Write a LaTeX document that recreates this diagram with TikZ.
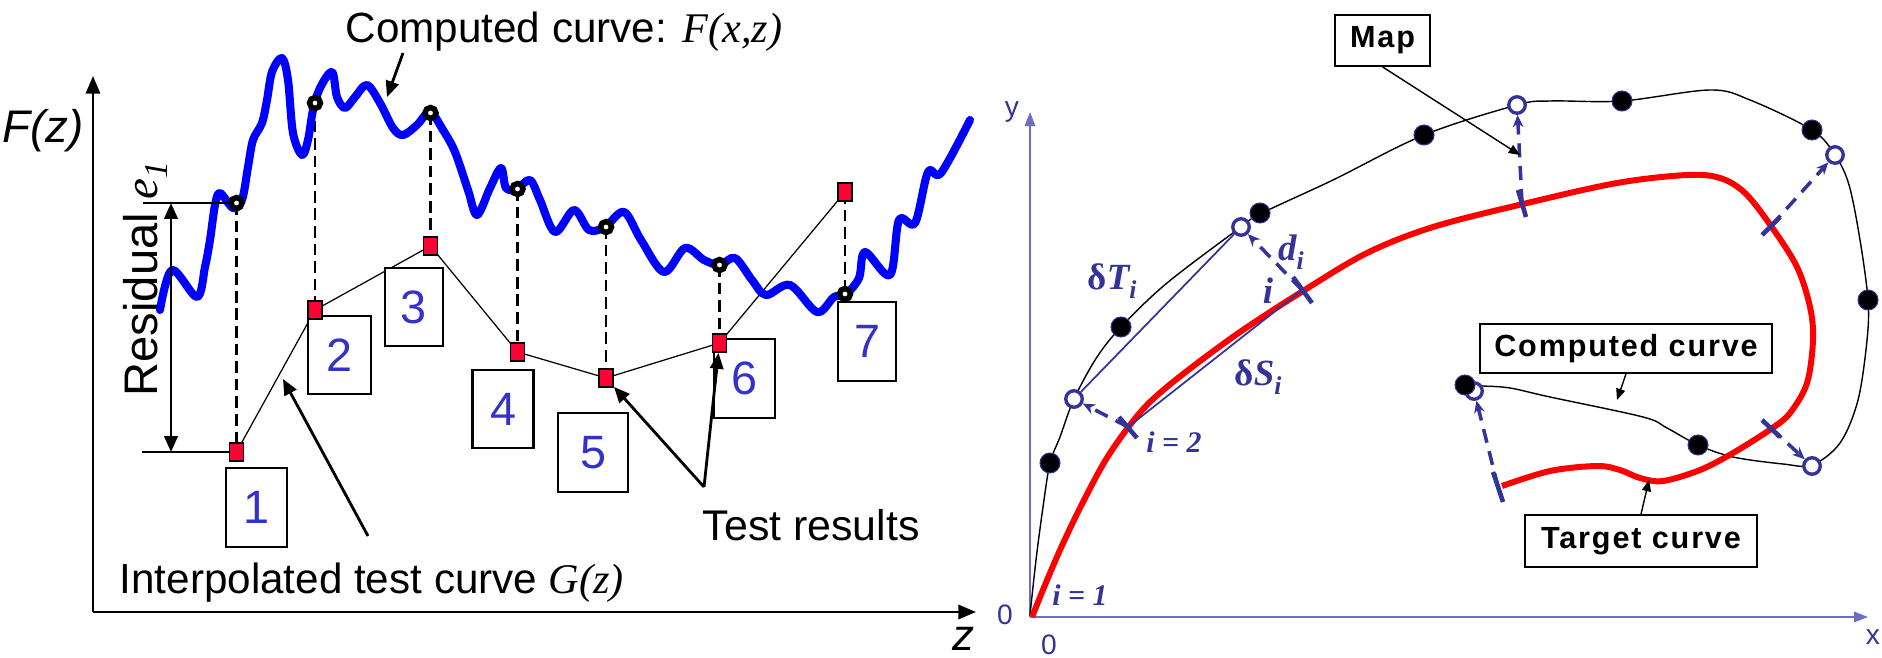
\documentclass[tikz,border=0pt]{standalone}
\usepackage{fontspec}
\setmainfont{Liberation Sans}
\newfontfamily\timesf{Liberation Serif}
\newfontfamily\boxfont[LetterSpace=6]{Liberation Sans}
\usetikzlibrary{arrows.meta}
\definecolor{curveblue}{RGB}{0,0,255}
\definecolor{numblue}{RGB}{51,51,204}
\definecolor{sqred}{RGB}{255,0,51}
\definecolor{navy}{RGB}{51,51,153}
\definecolor{axisblue}{RGB}{110,110,190}
\newcommand{\mysub}[1]{\raisebox{-2.6pt}{\fontsize{7.3}{7.3}\selectfont #1}}
\tikzset{
  numbox/.style={draw=black, line width=0.6pt, fill=white, inner sep=0pt, text=numblue, font=\fontsize{13.3}{13.3}\selectfont},
  sqr/.style={draw=black, line width=0.55pt, fill=sqred, minimum width=0.14cm, minimum height=0.18cm, inner sep=0pt},
  ring/.style={circle, draw=black, line width=1.55pt, fill=white, minimum size=0.11cm, inner sep=0pt},
  dashv/.style={line width=0.75pt, dash pattern=on 3.3pt off 1.7pt},
  thinl/.style={line width=0.35pt},
  blk/.style={-{Triangle[length=4.5pt,width=3.8pt]}, line width=0.8pt},
  lbl/.style={inner sep=0pt, font=\fontsize{12}{12}\selectfont},
  tbox/.style={draw=black, line width=0.5pt, fill=white, inner sep=0pt, font=\boxfont\bfseries\fontsize{8.7}{8.7}\selectfont},
  bdot/.style={circle, fill=black, draw=navy, line width=0.3pt, minimum size=0.2cm, inner sep=0pt},
  odot/.style={circle, fill=white, draw=navy, line width=0.95pt, minimum size=0.165cm, inner sep=0pt},
  tick/.style={navy, line width=1.3pt},
  dasharr/.style={navy, line width=1pt, dash pattern=on 4pt off 2.5pt, -{Stealth[length=3.5pt,width=3pt]}},
  thinarr/.style={line width=0.4pt, -{Triangle[length=3.2pt,width=2.6pt]}},
  navylbl/.style={inner sep=0pt, text=navy, font=\timesf\bfseries\itshape\fontsize{10.5}{10.5}\selectfont},
  axlbl/.style={inner sep=0pt, text=navy, font=\fontsize{8}{8}\selectfont}
}
\begin{document}
\begin{tikzpicture}[x=0.01cm,y=-0.01cm]
\useasboundingbox (0,0) rectangle (1882,658);
% ================= LEFT PANEL =================
\coordinate (lorig) at (93,612);
\coordinate (lytip) at (93,76);
\coordinate (lxtip) at (976,612);
\draw[line width=0.85pt, -{Triangle[length=5pt,width=4pt]}] (lorig) -- (lytip);
\draw[line width=0.85pt, -{Triangle[length=5pt,width=4pt]}] (lorig) -- (lxtip);

% coordinates of test results and computed points
\coordinate (p1) at (236.5,452);
\coordinate (p2) at (315,310);
\coordinate (p3) at (430.5,246);
\coordinate (p4) at (517.5,352);
\coordinate (p5) at (606,378);
\coordinate (p6) at (719.5,343);
\coordinate (p7) at (845,192);
\coordinate (q1) at (236.5,203);
\coordinate (q2) at (315,103);
\coordinate (q3) at (430.5,113);
\coordinate (q4) at (517.5,189);
\coordinate (q5) at (606,227);
\coordinate (q6) at (719.5,265);
\coordinate (q7) at (845,294);

% dashed residual lines
\draw[dashv] (q1) -- (p1);
\draw[dashv] (q2) -- (p2);
\draw[dashv] (q3) -- (p3);
\draw[dashv] (q4) -- (p4);
\draw[dashv] (q5) -- (p5);
\draw[dashv] (q6) -- (p6);
\draw[dashv] (p7) -- (q7);

% interpolated polyline
\draw[thinl] (p1) -- (p2) -- (p3) -- (p4) -- (p5) -- (p6) -- (p7);

% computed wiggly curve
\draw[curveblue, line width=2.3pt, line join=round, line cap=round]
 plot[smooth, tension=0.55] coordinates {
 (160,310) (172,270) (197,297) (205,267) (210,240) (215,205) (220,193) (233,208) (242,200)
 (248,167) (253,140) (262,123) (267,100) (272,72) (282,58) (288,80) (293,133) (302,155)
 (308,140) (313,110) (320,88) (332,72) (337,97) (345,108) (355,97) (367,85) (380,103)
 (393,128) (403,135) (417,125) (430,112) (443,130) (455,152) (468,190) (477,215) (490,188)
 (501,168) (506,188) (517,189) (530,180) (540,200) (555,232) (574,210) (589,230) (605,227)
 (624,212) (641,240) (664,272) (685,248) (704,260) (720,265) (735,258) (752,280) (766,295)
 (790,285) (817,312) (834,297) (846,294) (859,278) (865,252) (890,275) (899,220) (915,223)
 (928,172) (941,173) (970,120)};

% number boxes
\node[numbox, minimum width=0.61cm, minimum height=0.79cm] (b1) at (256.5,507.5) {1};
\node[numbox, minimum width=0.63cm, minimum height=0.78cm] (b2) at (339.5,355) {2};
\node[numbox, minimum width=0.58cm, minimum height=0.78cm] (b3) at (414,307) {3};
\node[numbox, minimum width=0.61cm, minimum height=0.78cm] (b4) at (503,409) {4};
\node[numbox, minimum width=0.70cm, minimum height=0.79cm] (b5) at (593,452.5) {5};
\node[numbox, minimum width=0.61cm, minimum height=0.79cm] (b6) at (744.5,378.5) {6};
\node[numbox, minimum width=0.58cm, minimum height=0.79cm] (b7) at (867,341.5) {7};

% markers on top
\node[sqr] (s1) at (p1) {};
\node[sqr] (s2) at (p2) {};
\node[sqr] (s3) at (p3) {};
\node[sqr] (s4) at (p4) {};
\node[sqr] (s5) at (p5) {};
\node[sqr] (s6) at (p6) {};
\node[sqr] (s7) at (p7) {};
\node[ring] (c1) at (q1) {};
\node[ring] (c2) at (q2) {};
\node[ring] (c3) at (q3) {};
\node[ring] (c4) at (q4) {};
\node[ring] (c5) at (q5) {};
\node[ring] (c6) at (q6) {};
\node[ring] (c7) at (q7) {};

% residual dimension
\coordinate (rt) at (171,203);
\coordinate (rb) at (171,452);
\coordinate (rtl) at (143,203);
\coordinate (rbl) at (142,452);
\draw[line width=0.8pt] (rtl) -- (c1);
\draw[line width=0.8pt] (rbl) -- (s1);
\draw[line width=0.8pt, {Triangle[length=4.5pt,width=3.8pt]}-{Triangle[length=4.5pt,width=3.8pt]}] (rt) -- (rb);
\node[lbl, rotate=90, anchor=base west, font=\fontsize{13.4}{13.4}\selectfont] (res) at (157,397)
  {Residual {\timesf\itshape e\raisebox{-3pt}{\fontsize{9.5}{9.5}\selectfont 1}}};

% labels
\node[lbl, anchor=base west, font=\itshape\fontsize{13}{13}\selectfont] (Fz) at (2,143) {F(z)};
\node[lbl, anchor=base west, font=\itshape\fontsize{12.5}{12.5}\selectfont] (zl) at (952,650) {z};
\node[lbl, anchor=base west] (ctitle) at (345,43) {Computed curve: {\timesf\itshape F(x,z)}};
\node[lbl, anchor=base west] (itext) at (119,593) {Interpolated test curve {\timesf\itshape G(z)}};
\node[lbl, anchor=base west, font=\fontsize{12.2}{12.2}\selectfont] (ttext) at (702,540) {Test results};

\coordinate (ca0) at (403,53);
\coordinate (ca1) at (387,97);
\draw[blk] (ca0) -- (ca1);
\coordinate (ia0) at (368,536);
\coordinate (ia1) at (283,379);
\draw[blk] (ia0) -- (ia1);
\coordinate (ta0) at (704,487);
\draw[blk] (ta0) -- (s5);
\draw[blk] (ta0) -- (s6);

% ================= RIGHT PANEL =================
\coordinate (O) at (1030,617);
\coordinate (ytip) at (1030,112);
\coordinate (xtip) at (1868,617);
\draw[axisblue, line width=0.5pt, -{Triangle[length=4pt,width=3pt]}] (O) -- (ytip);
\draw[axisblue, line width=0.5pt, -{Triangle[length=4pt,width=3pt]}] (O) -- (xtip);
\node[axlbl] (ylab) at (1012,112) {y};
\node[axlbl] (xlab) at (1873,637) {x};
\node[axlbl] (z0a) at (1005,615) {0};
\node[axlbl] (z0b) at (1049,645) {0};

% computed (thin black) curve
\draw[line width=0.4pt] plot[smooth, tension=0.55] coordinates {
 (1030,615) (1036,560) (1043,507) (1050,463) (1060,437) (1074,399) (1097,357) (1122,326)
 (1167,283) (1241,227) (1260,214) (1333,180) (1424,135) (1517,105) (1550,101) (1622,101)
 (1710,90) (1750,100) (1812,130) (1835,155) (1849,185) (1860,240) (1868,300) (1867,340)
 (1858,400) (1840,443) (1812,465) (1783,464) (1733,457) (1698,445) (1667,428) (1643,417)
 (1550,397) (1510,388) (1483,386) (1465,385)};

% target (red) curve
\draw[red, line width=1.7pt, line join=round] plot[smooth, tension=0.55] coordinates {
 (1032,617) (1045,585) (1060,550) (1080,508) (1105,461) (1130,425) (1152,400) (1187,371)
 (1240,332) (1303,291) (1367,253) (1433,227) (1523,204) (1617,183) (1687,175) (1720,178)
 (1745,193) (1771,226) (1797,267) (1810,307) (1813,340) (1807,383) (1790,413) (1771,429)
 (1733,453) (1700,470) (1663,481) (1640,478) (1620,470) (1597,466) (1550,471) (1502,486)};

% open circles (mapped points)
\node[odot] (o1) at (1074,399) {};
\node[odot] (o2) at (1241,227) {};
\node[odot] (o3) at (1517,105) {};
\node[odot] (o4) at (1835,155) {};
\node[odot] (o5) at (1812,466) {};
\node[odot] (o6) at (1474,391) {};

% black dots (computed points)
\node[bdot] (d1) at (1050,463) {};
\node[bdot] (d2) at (1121,327) {};
\node[bdot] (d3) at (1260,213) {};
\node[bdot] (d4) at (1424,135) {};
\node[bdot] (d5) at (1622,101) {};
\node[bdot] (d6) at (1812,130) {};
\node[bdot] (d7) at (1868,300) {};
\node[bdot] (d8) at (1698,445) {};
\node[bdot] (d9) at (1465,385) {};

% ticks on target curve
\coordinate (t2) at (1128,427);
\coordinate (ti) at (1302,290);
\coordinate (tm) at (1522,203);
\coordinate (tr) at (1771,226);
\coordinate (tl) at (1771,428);
\coordinate (te) at (1498,487);
\draw[tick] (1119,417) -- (1137,438);
\draw[tick] (1293,277) -- (1312,303);
\draw[tick] (1518,190) -- (1526,217);
\draw[tick] (1762,235) -- (1780,217);
\draw[tick] (1762,420) -- (1780,437);
\draw[tick] (1493,472) -- (1503,502);

% chords
\draw[navy, line width=0.5pt] (o1) -- (o2);
\draw[navy, line width=0.5pt] (t2) -- (ti);

% dashed mapping arrows
\draw[dasharr] (t2) -- (o1);
\draw[dasharr] (ti) -- (o2);
\draw[dasharr] (tm) -- (o3);
\draw[dasharr] (tr) -- (o4);
\draw[dasharr] (tl) -- (o5);
\draw[dasharr] (te) -- (o6);

% labels
\node[navylbl] (lT) at (1112,281) {{\upshape δ}T\mysub{i}};
\node[navylbl] (ld) at (1291,252) {d\mysub{i}};
\node[navylbl] (li) at (1268,291) {i};
\node[navylbl] (lS) at (1258,377) {{\upshape δ}S\mysub{i}};
\node[navylbl, font=\timesf\bfseries\itshape\fontsize{8.5}{8.5}\selectfont] (l2) at (1174,442) {i = 2};
\node[navylbl, font=\timesf\bfseries\itshape\fontsize{8.5}{8.5}\selectfont] (l1) at (1080,595) {i = 1};

% boxes
\node[tbox, minimum width=0.95cm, minimum height=0.51cm] (mapb) at (1382.5,40.5) {Map};
\node[tbox, minimum width=2.92cm, minimum height=0.49cm] (ccb) at (1626,348.5) {Computed curve};
\node[tbox, minimum width=2.32cm, minimum height=0.52cm] (tcb) at (1641,541) {Target curve};

\coordinate (mapt) at (1520,155);
\coordinate (cct) at (1617,400);
\coordinate (tct) at (1649,480);
\draw[thinarr] (mapb.south) -- (mapt);
\draw[thinarr] (ccb.south) -- (cct);
\draw[thinarr] (tcb.north) -- (tct);
\end{tikzpicture}
\end{document}
